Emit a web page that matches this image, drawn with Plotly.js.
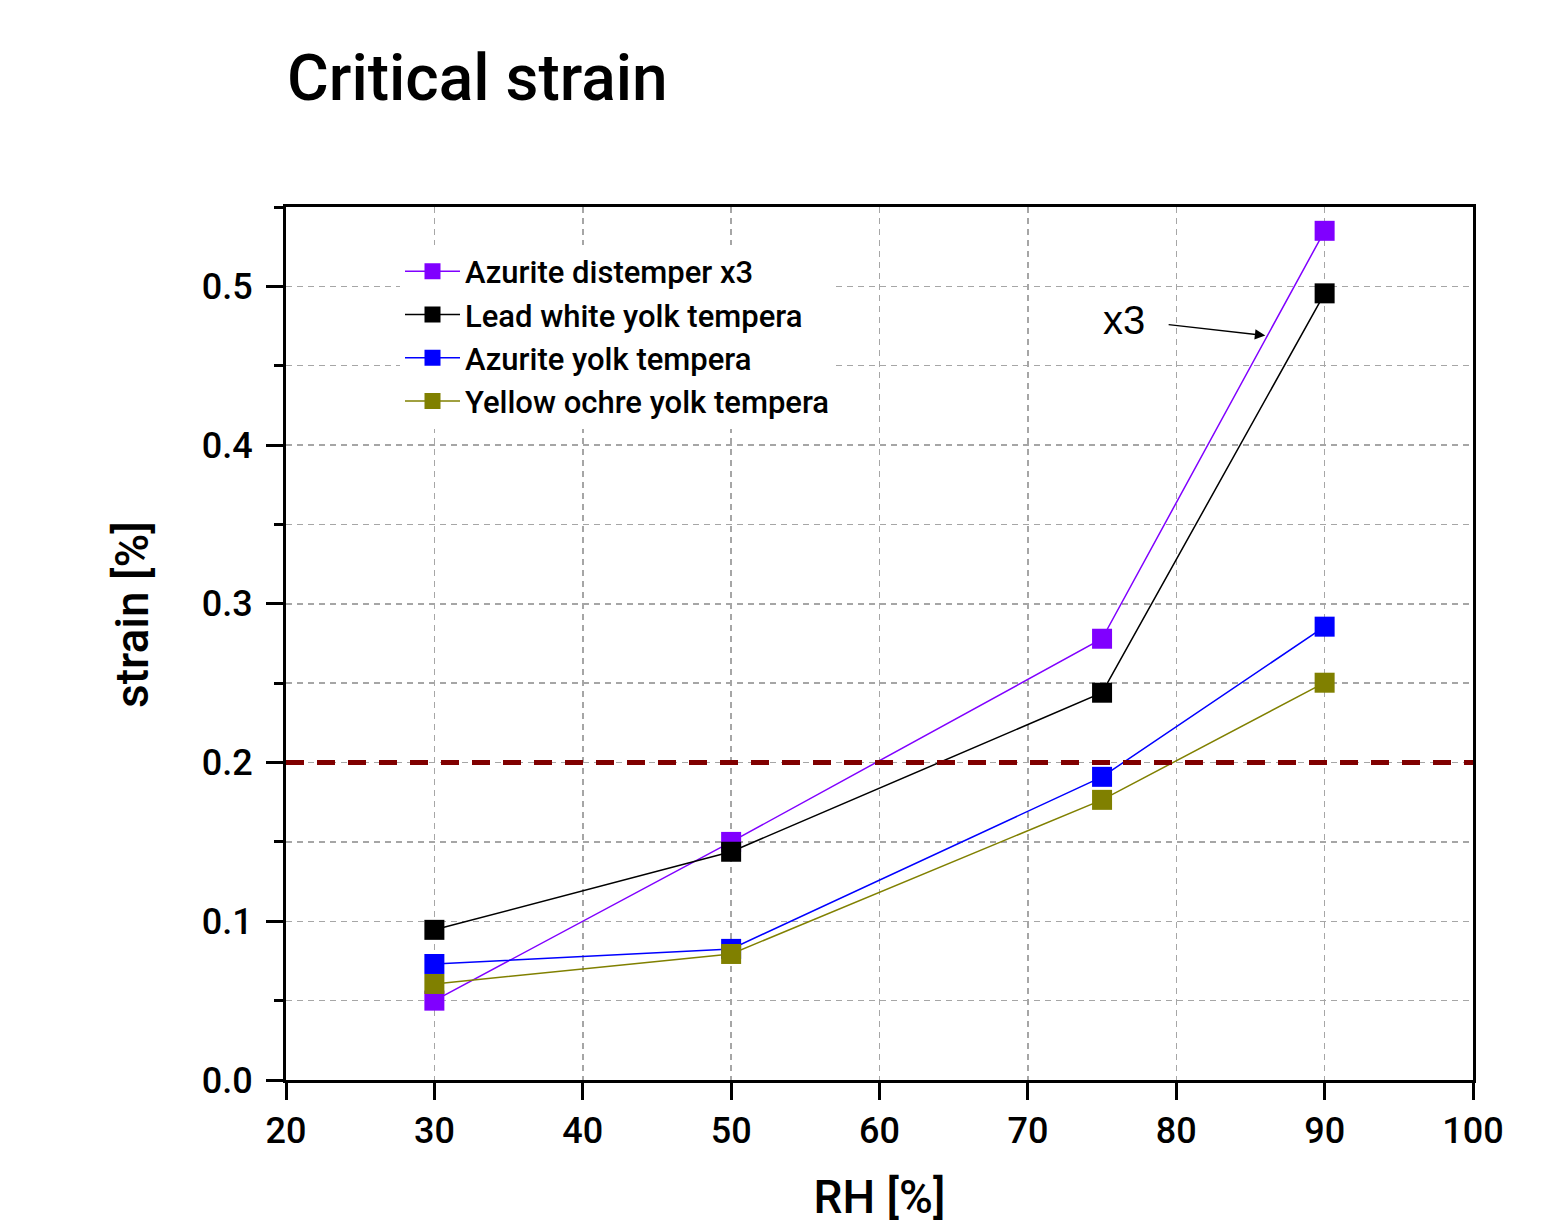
<!DOCTYPE html>
<html>
<head>
<meta charset="utf-8">
<script src="https://cdn.plot.ly/plotly-3.0.1.min.js"></script>
<style>html,body{margin:0;padding:0;background:#fff}#chart{width:1541px;height:1224px}</style>
</head>
<body>
<div id="chart"></div>
<script>
const rh = [30, 50, 75, 90];
const azuriteDistemperX3 = [0.050, 0.150, 0.278, 0.535];
const leadWhiteYolk = [0.0946, 0.1438, 0.244, 0.4956];
const azuriteYolk = [0.0731, 0.0826, 0.191, 0.2856];
const yellowOchreYolk = [0.0605, 0.0794, 0.1765, 0.2503];
const seriesNames = ["Azurite distemper x3", "Lead white yolk tempera", "Azurite yolk tempera", "Yellow ochre yolk tempera"];
const seriesColors = ["#8000FF", "#000000", "#0000FF", "#808000"];
const threshold = 0.2;
const xRange = [20, 100];
const yRange = [0, 0.55];
const annotationText = "x3";
const annotationPoint = [86, 0.469];

const FONT = "Roboto, 'DejaVu Sans', sans-serif";
const seriesData = [azuriteDistemperX3, leadWhiteYolk, azuriteYolk, yellowOchreYolk];
const traces = seriesData.map((ys, i) => ({
  x: rh, y: ys, name: seriesNames[i], type: 'scatter', mode: 'lines+markers',
  line: {color: seriesColors[i], width: 1.5},
  marker: {symbol: 'square', size: 20, color: seriesColors[i], line: {width: 0}}
}));

const gridCol = '#a6a6a6';
const layout = {
  width: 1541, height: 1224,
  margin: {l: 286, r: 68, t: 207, b: 144, pad: 0},
  paper_bgcolor: '#fff', plot_bgcolor: '#fff',
  font: {family: FONT, color: '#000'},
  title: {text: 'Critical strain', font: {family: FONT, size: 64, weight: 500, color: '#000'},
          x: 287/1541, xanchor: 'left', xref: 'container', y: 1 - 78/1224, yanchor: 'middle', yref: 'container'},
  xaxis: {
    range: xRange, dtick: 10, tick0: 0, showline: true, linewidth: 3, linecolor: '#000', mirror: true,
    ticks: 'outside', ticklen: 17, tickwidth: 3, tickcolor: '#000',
    tickfont: {family: FONT, size: 36, weight: 500, color: '#000'}, ticklabelstandoff: 0,
    showgrid: true, gridcolor: gridCol, gridwidth: 1.5, griddash: '6px,5px', zeroline: false,
    title: {text: 'RH [%]', font: {family: FONT, size: 46, weight: 500, color: '#000'}, standoff: 50}
  },
  yaxis: {
    range: yRange, dtick: 0.1, tick0: 0, tickformat: '.1f', showline: true, linewidth: 3, linecolor: '#000', mirror: true,
    ticks: 'outside', ticklen: 17, tickwidth: 3, tickcolor: '#000',
    tickfont: {family: FONT, size: 36, weight: 500, color: '#000'}, ticklabelstandoff: 6,
    showgrid: true, gridcolor: gridCol, gridwidth: 1.5, griddash: '6px,5px', zeroline: false,
    minor: {dtick: 0.05, tick0: 0, ticks: 'outside', ticklen: 9, tickwidth: 3, tickcolor: '#000',
            showgrid: true, gridcolor: gridCol, gridwidth: 1.5, griddash: '6px,5px'}
  },
  legend: {x: (400-286)/1187, y: 0.957, xanchor: 'left', yanchor: 'top', bgcolor: '#fff', borderwidth: 0,
           itemwidth: 55, font: {family: FONT, size: 31, weight: 500, color: '#000'}, tracegroupgap: 0},
  shapes: [{type: 'line', xref: 'paper', x0: 0, x1: 1, yref: 'y', y0: threshold, y1: threshold,
            line: {color: '#800000', width: 5, dash: '18px,13px'}, layer: 'above'}],
  annotations: [
    {x: annotationPoint[0], y: annotationPoint[1], xref: 'x', yref: 'y', text: annotationText,
     showarrow: true, arrowhead: 2, arrowsize: 1.6, arrowwidth: 1.3, arrowcolor: '#000', startstandoff: 22,
     ax: -141, ay: -16, font: {family: "'Liberation Sans', Arial, sans-serif", size: 40, color: '#000'}},
    {x: (132-286)/1187, y: (1080-615)/873, xref: 'paper', yref: 'paper', text: 'strain [%]', textangle: -90,
     showarrow: false, xanchor: 'center', yanchor: 'middle',
     font: {family: FONT, size: 46, weight: 500, color: '#000'}}
  ]
};

Plotly.newPlot('chart', traces, layout, {displayModeBar: false, staticPlot: true});
</script>
</body>
</html>
